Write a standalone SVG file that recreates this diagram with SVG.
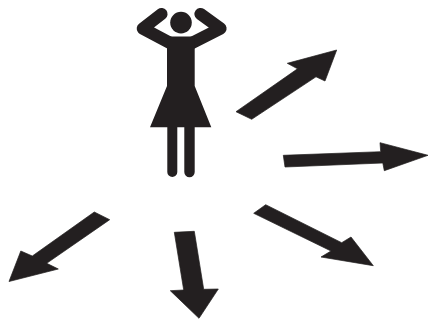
<svg xmlns="http://www.w3.org/2000/svg" width="428" height="323" viewBox="0 0 428 323">
<style>
.f{fill:#231f20}
.s{stroke:#231f20;stroke-width:0.7;stroke-linejoin:miter}
.a{fill:none;stroke:#231f20;stroke-width:12.2;stroke-linecap:round;stroke-linejoin:round}
</style>
<rect width="428" height="323" fill="#fff"/>
<g id="figure">
<circle class="f" cx="181" cy="22.600" r="10.800"/>
<path class="a" d="M161.500 14L142.800 28.500L172 44"/>
<path class="a" d="M200.500 14L220.500 28.500L190 44"/>
<path class="f" d="M167 36.500H194.700V86L211.300 127.300H194.700V172A5.200 5.200 0 0 1 184.300 172V127.300H177.300V172A5 5 0 0 1 167.300 172V127.300H150L167 86Z"/>
</g>
<g id="connectors">
<path id="arrow-upper-right" class="f s" d="M236 111.700L297.500 68.800L287.300 63.300L336.700 50L325 81L316 76.800L251.700 119.300Z"/>
<path id="arrow-right" class="f s" d="M283.300 155.300L380.700 151.700L380 142.700L428 155.300L384.300 170.700L382.800 163L285 167Z"/>
<path id="arrow-lower-left" class="f s" d="M94.300 212L109.700 219.700L46.700 263.300L58.300 269L9 281.500L20.800 251L32.300 256Z"/>
<path id="arrow-down" class="f s" d="M174.300 232.300L194.300 231.300L203.700 289.300L218.300 289L199 318.300L170.300 290.700L183.700 290Z"/>
<path id="arrow-lower-right" class="f s" d="M265.700 204.700L341.700 242.700L351 237L373.300 265.700L321 257L331 251L253.700 213.300Z"/>
</g>
</svg>
